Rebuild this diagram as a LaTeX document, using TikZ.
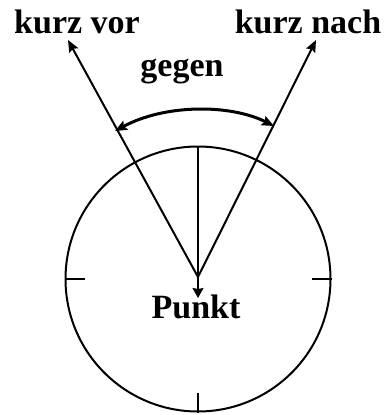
\documentclass[tikz,border=0pt]{standalone}
\usepackage{fontspec}
\setmainfont{Liberation Serif}
\usetikzlibrary{arrows.meta}
\begin{document}
\begin{tikzpicture}[x=1pt,y=-1pt,
  lbl/.style={font=\fontsize{34}{36}\selectfont\bfseries, inner sep=0pt},
  ln/.style={line width=2pt},
  ptr/.style={ln, -{Stealth[length=12pt,width=10pt,inset=2pt]}},
  tick/.style={line width=2pt}]
\useasboundingbox (0,0) rectangle (388,415);
\coordinate (c) at (198,277);
\node[draw, circle, line width=2pt, minimum size=265pt, inner sep=0pt] (clock) at (198,279) {};
\coordinate (top) at (198,146);
\coordinate (tip) at (198,298);
\coordinate (lt) at (68,40);
\coordinate (rt) at (316,40);
\coordinate (al) at (115,131);
\coordinate (ar) at (274,126);
% ticks
\draw[tick] (clock.west) -- ++(20,0);
\draw[tick] (clock.east) -- ++(-20,0);
\draw[tick] (clock.south) -- ++(0,-20);
% hands
\draw[line width=1.4pt, -{Stealth[length=10pt,width=11pt,inset=1pt]}] (top) -- (tip);
\draw[ptr] (c) -- (lt);
\draw[ptr] (c) -- (rt);
% arc
\draw[line width=3pt, {Stealth[length=12pt,width=10pt,inset=2pt]}-{Stealth[length=12pt,width=10pt,inset=2pt]}] (al) .. controls (165,104) and (230,104) .. (ar);
% labels
\node[lbl] (kv) at (77,22) {kurz vor};
\node[lbl] (kn) at (308,22) {kurz nach};
\node[lbl] (gg) at (182,72) {gegen};
\node[lbl] (pk) at (196,307) {Punkt};
\end{tikzpicture}
\end{document}
